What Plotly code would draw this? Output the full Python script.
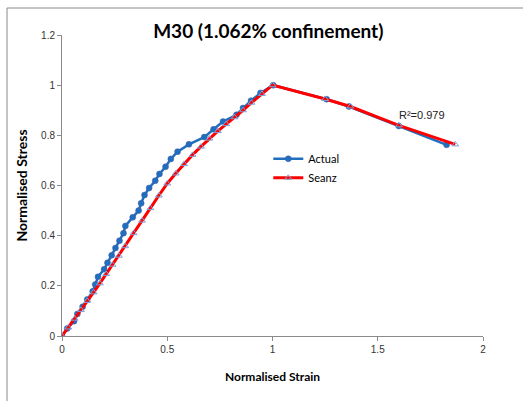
import plotly.graph_objects as go

actual_x = [0, 0.025, 0.057, 0.073, 0.098, 0.12, 0.146, 0.158, 0.171, 0.2, 0.216, 0.236, 0.254,
            0.273, 0.292, 0.301, 0.336, 0.364, 0.376, 0.392, 0.414, 0.443, 0.463, 0.492, 0.517,
            0.549, 0.603, 0.676, 0.72, 0.765, 0.829, 0.86, 0.898, 0.943, 1.003, 1.257, 1.363, 1.6, 1.827]
actual_y = [0, 0.03, 0.059, 0.088, 0.117, 0.146, 0.178, 0.205, 0.236, 0.266, 0.292, 0.322, 0.351,
            0.38, 0.41, 0.439, 0.473, 0.5, 0.529, 0.562, 0.59, 0.619, 0.646, 0.675, 0.706,
            0.735, 0.764, 0.793, 0.824, 0.855, 0.882, 0.909, 0.938, 0.969, 1.0, 0.944, 0.915, 0.837, 0.762]

seanz_x = [0, 0.03, 0.06, 0.09, 0.12, 0.15, 0.18, 0.21, 0.24, 0.27, 0.3, 0.34, 0.38, 0.42, 0.46,
           0.5, 0.54, 0.58, 0.62, 0.66, 0.7, 0.74, 0.78, 0.82, 0.86, 0.9, 0.95, 1.0, 1.25, 1.37, 1.6, 1.868]
seanz_y = [0, 0.034, 0.069, 0.104, 0.14, 0.174, 0.21, 0.247, 0.284, 0.32, 0.358, 0.41, 0.46, 0.51, 0.56,
           0.608, 0.648, 0.686, 0.722, 0.755, 0.787, 0.817, 0.845, 0.872, 0.9, 0.93, 0.965, 1.0, 0.945, 0.915, 0.84, 0.764]

fig = go.Figure()
fig.add_trace(go.Scatter(
    x=actual_x, y=actual_y, mode="lines+markers", name="Actual",
    line=dict(color="#1f6fc0", width=2.5),
    marker=dict(symbol="circle", size=6, color="#1f6fc0", line=dict(color="#4a5fa0", width=0.5)),
))
fig.add_trace(go.Scatter(
    x=seanz_x, y=seanz_y, mode="lines+markers", name="Seanz",
    line=dict(color="#ff0000", width=3),
    marker=dict(symbol="triangle-up-open", size=6, color="#7f9fd8", line=dict(width=1)),
))

fig.add_annotation(x=1.71, y=0.881, text="R²=0.979", showarrow=False,
                   font=dict(family="Liberation Sans, Arial", size=11, color="#222"))

# outer chart border (left and top visible)
fig.add_shape(type="line", xref="paper", yref="paper", x0=-0.1306, y0=1.0897, x1=-0.1306, y1=-0.3,
              line=dict(color="#8a8a8a", width=1))
fig.add_shape(type="line", xref="paper", yref="paper", x0=-0.1306, y0=1.0897, x1=1.2, y1=1.0897,
              line=dict(color="#8a8a8a", width=1))

fig.update_layout(
    width=523, height=401,
    margin=dict(l=62, r=40, t=35, b=65),
    paper_bgcolor="white", plot_bgcolor="white",
    title=dict(text="<b>M30 (1.062% confinement)</b>", x=0.513, xanchor="center", y=0.922, yanchor="middle",
               font=dict(family="Lato, Open Sans, sans-serif", size=19, color="black")),
    showlegend=True,
    legend=dict(x=0.49, y=0.637, xanchor="left", yanchor="top", bgcolor="rgba(0,0,0,0)",
                font=dict(family="Lato, sans-serif", size=11, color="black"),
                tracegroupgap=6, itemwidth=30),
    xaxis=dict(range=[0, 2], tickvals=[0, 0.5, 1, 1.5, 2], showgrid=False, zeroline=False,
               showline=True, linecolor="#8a8a8a", linewidth=1, ticks="outside", ticklen=4,
               tickcolor="#8a8a8a", tickfont=dict(family="Liberation Sans, Arial", size=10, color="#333"),
               title=dict(text="<b>Normalised Strain</b>", standoff=18,
                          font=dict(family="Lato, sans-serif", size=12, color="black"))),
    yaxis=dict(range=[0, 1.2], tickvals=[0, 0.2, 0.4, 0.6, 0.8, 1, 1.2], showgrid=False, zeroline=False,
               showline=True, linecolor="#8a8a8a", linewidth=1, ticks="outside", ticklen=4,
               tickcolor="#8a8a8a", tickfont=dict(family="Liberation Sans, Arial", size=10, color="#333"),
               title=dict(text="<b>Normalised Stress</b>", standoff=10,
                          font=dict(family="Lato, sans-serif", size=14, color="black"))),
)

fig.write_html("out.html")
